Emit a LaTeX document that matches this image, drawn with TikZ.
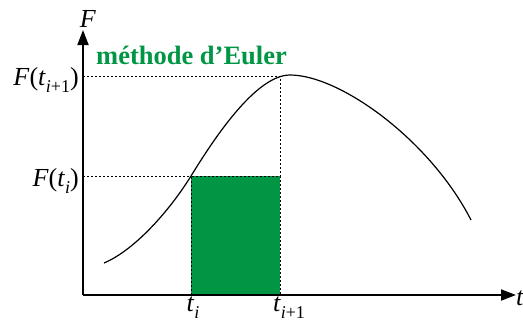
\documentclass[tikz,border=0pt]{standalone}
\usepackage{fontspec}
\setmainfont{Liberation Serif}
\usetikzlibrary{arrows.meta}
\definecolor{eulergreen}{RGB}{0,150,68}
\newcommand{\vi}[1]{\textit{#1}}
\newcommand{\subsc}[1]{\raisebox{-0.28em}{\fontsize{18}{19}\selectfont #1}}
\begin{document}
\begin{tikzpicture}[x=1pt,y=-1pt,
  axis/.style={line width=1.8pt,-{Triangle[length=15pt,width=11pt]}},
  guide/.style={line width=0.8pt,dash pattern=on 2pt off 2pt},
  lbl/.style={inner sep=0pt,font=\fontsize{26}{28}\selectfont}]
\useasboundingbox (0,0) rectangle (523,322);
\coordinate (O) at (83,295);
\coordinate (ytip) at (83,30);
\coordinate (xtip) at (516,295);
\coordinate (s) at (104,263);
\coordinate (a) at (191,176);
\coordinate (p) at (290,75);
\coordinate (e) at (471,220);
\coordinate (b) at (280,76);
\coordinate (a0) at (191,295);
\coordinate (b0) at (280,295);
\coordinate (ya) at (83,176);
\coordinate (yb) at (83,76);
\coordinate (ba) at (280,176);
% green rectangle
\fill[eulergreen] (a) rectangle (b0);
\draw[guide] (a0) -- (a) -- (ba) -- (b0);
\draw[guide] (ya) -- (a);
\draw[guide] (yb) -- (b) -- (ba);
% curve
\draw[line width=1.2pt] (s) .. controls (135,250) and (170,210) .. (a)
  .. controls (212,142) and (255,75) .. (p)
  .. controls (340,75) and (430,140) .. (e);
% axes
\draw[axis] (O) -- (ytip);
\draw[axis] (O) -- (xtip);
% labels
\node[lbl,anchor=base] (F) at (88,27) {\vi{F}};
\node[lbl,anchor=base east] (Fb) at (79,85) {\vi{F}(\vi{t}\subsc{\vi{i}+1})};
\node[lbl,anchor=base east] (Fa) at (79,186) {\vi{F}(\vi{t}\subsc{\vi{i}})};
\node[lbl,anchor=base] (ta) at (193,311) {\vi{t}\subsc{\vi{i}}};
\node[lbl,anchor=base] (tb) at (289,311) {\vi{t}\subsc{\vi{i}+1}};
\node[lbl,anchor=base west] (t) at (516,305) {\vi{t}};
\node[inner sep=0pt,anchor=base west,text=eulergreen,font=\fontsize{26.5}{28}\selectfont\bfseries] (eu) at (96,64) {méthode d’Euler};
\end{tikzpicture}
\end{document}
